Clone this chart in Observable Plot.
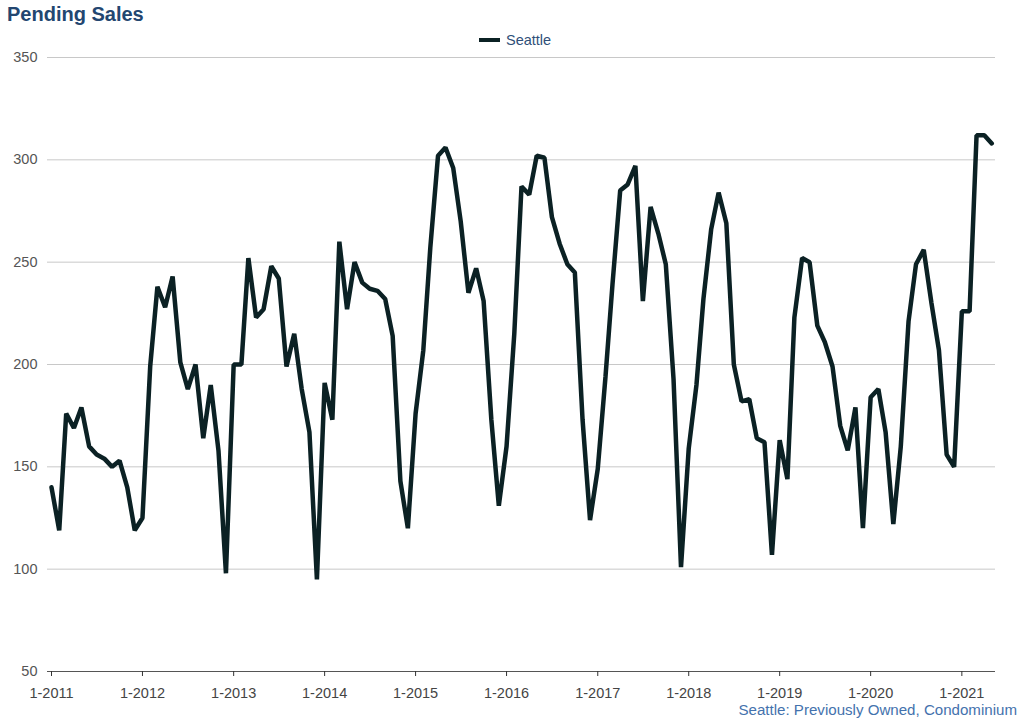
<!DOCTYPE html>
<html><head><meta charset="utf-8">
<script src="https://cdn.jsdelivr.net/npm/d3@7"></script>
<script src="https://cdn.jsdelivr.net/npm/@observablehq/plot@0.6"></script>
<style>
body{margin:0;background:#fff;font-family:"Liberation Sans",Arial,sans-serif;}
#wrap{position:relative;width:1024px;height:722px;overflow:hidden;}
#chart{position:absolute;left:0;top:0;}
#title{position:absolute;left:7px;top:3px;font-size:20px;font-weight:bold;color:#234670;}
#legend{position:absolute;left:479px;top:31px;height:18px;font-size:14.5px;color:#2f4f78;display:flex;align-items:center;}
#legend .sw{display:inline-block;width:21px;height:4.5px;background:#0b2124;margin-right:6px;}
#caption{position:absolute;right:7px;top:701px;font-size:15.1px;color:#4472ad;}
</style></head>
<body>
<div id="wrap">
  <div id="chart"></div>
  <div id="title"></div>
  <div id="legend"><span class="sw"></span><span id="legname"></span></div>
  <div id="caption"></div>
</div>
<script>
const titleText = "Pending Sales";
const seriesName = "Seattle";
const captionText = "Seattle: Previously Owned, Condominium";

const pending2011 = [140,119,176,169,179,160,156,154,150,153,140,119];
const pending2012 = [125,199,238,228,243,201,188,200,164,190,158,98];
const pending2013 = [200,200,252,223,227,248,242,199,215,188,167,95];
const pending2014 = [191,173,260,227,250,240,237,236,232,214,143,120];
const pending2015 = [176,207,257,302,306,296,270,235,247,231,173,131];
const pending2016 = [160,215,287,283,302,301,272,259,249,245,173,124];
const pending2017 = [149,194,239,285,288,297,231,277,264,249,193,101];
const pending2018 = [159,190,232,266,284,269,200,182,183,164,162,107];
const pending2019 = [163,144,223,252,250,219,211,199,170,158,179,120];
const pending2020 = [184,188,167,122,160,221,249,256,230,207,156,150];
const pending2021 = [226,226,312,312,308];

const years = [2011,2012,2013,2014,2015,2016,2017,2018,2019,2020,2021];
const yearValues = [pending2011,pending2012,pending2013,pending2014,pending2015,pending2016,pending2017,pending2018,pending2019,pending2020,pending2021];
const yTicks = [50,100,150,200,250,300,350];
const xTickYears = years;

const data = [];
years.forEach((yr, k) => yearValues[k].forEach((v, m) => data.push({date: new Date(Date.UTC(yr, m, 1)), value: v})));

document.getElementById("title").textContent = titleText;
document.getElementById("legname").textContent = seriesName;
document.getElementById("caption").textContent = captionText;

const chart = Plot.plot({
  width: 1024, height: 722,
  marginLeft: 51, marginRight: 29, marginTop: 57, marginBottom: 51,
  style: {fontFamily: "Liberation Sans, Arial, sans-serif", fontSize: "14.5px", color: "#444", background: "transparent"},
  x: {type: "utc", domain: [new Date(Date.UTC(2011,0,1)), new Date(Date.UTC(2021,4,16))]},
  y: {domain: [50, 350]},
  marks: [
    Plot.ruleY(yTicks.filter(t => t > 50), {stroke: "#c8c8c8", strokeWidth: 1, insetLeft: -4}),
    Plot.ruleY([50], {stroke: "#555", strokeWidth: 1.2, insetLeft: -4}),
    Plot.axisY({ticks: yTicks, tickSize: 0, tickPadding: 14, label: null, fill: "#555"}),
    Plot.axisX({ticks: xTickYears.map(y => new Date(Date.UTC(y,0,1))), tickSize: 5, tickPadding: 11,
      tickFormat: d => `1-${d.getUTCFullYear()}`, label: null, stroke: "#333", fill: "#444"}),
    Plot.lineY(data, {x: "date", y: "value", stroke: "#0b2124", strokeWidth: 4.5, strokeLinejoin: "miter"})
  ]
});
document.getElementById("chart").appendChild(chart);
</script>
</body></html>
